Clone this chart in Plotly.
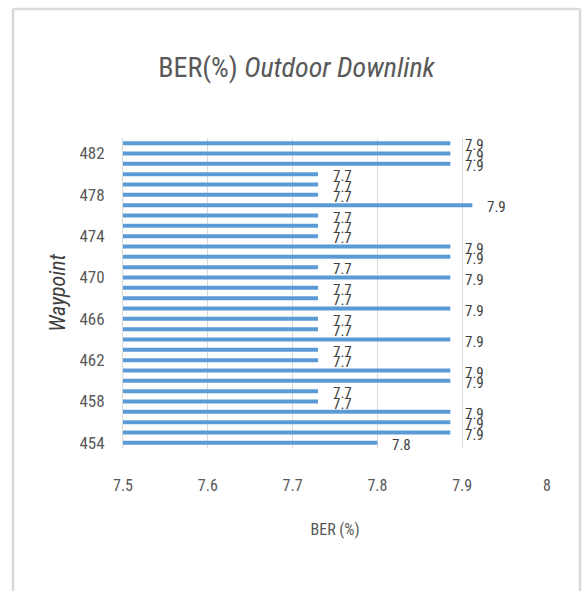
import plotly.graph_objects as go

# ---- data ----
waypoints = [454, 455, 456, 457, 458, 459, 460, 461, 462, 463,
             464, 465, 466, 467, 468, 469, 470, 471, 472, 473,
             474, 475, 476, 477, 478, 479, 480, 481, 482, 483]
ber = [7.80, 7.886, 7.886, 7.886, 7.73, 7.73, 7.886, 7.886, 7.73, 7.73,
       7.886, 7.73, 7.73, 7.886, 7.73, 7.73, 7.886, 7.73, 7.886, 7.886,
       7.73, 7.73, 7.73, 7.912, 7.73, 7.73, 7.73, 7.886, 7.886, 7.886]
y_tickvals = [454, 458, 462, 466, 470, 474, 478, 482]
x_tickvals = [7.5, 7.6, 7.7, 7.8, 7.9, 8.0]
x_ticktext = ["7.5", "7.6", "7.7", "7.8", "7.9", "8"]

FONT = "Liberation Sans Narrow, Roboto Condensed, DejaVu Sans Condensed, Arial Narrow, sans-serif"
W, H = 582, 591
L, R, T, B = 123, 35, 138, 143

fig = go.Figure()
fig.add_trace(go.Bar(
    x=ber, y=waypoints, orientation="h",
    marker=dict(color="#5B9BD5", line=dict(width=0)),
    width=0.38,
    hoverinfo="x+y",
))

for w, v in zip(waypoints, ber):
    fig.add_annotation(
        x=v, y=w, xref="x", yref="y", text=f"{v:.1f}",
        showarrow=False, xanchor="left", yanchor="middle",
        xshift=13, yshift=-2,
        font=dict(family=FONT, size=15, color="#404040"),
    )

# outer chart border (light grey frame)
pw = W - L - R
ph = H - T - B
def px_x(p):
    return (p - L) / pw
def px_y(p):
    return (H - B - p) / ph
fig.add_shape(type="line", xref="paper", yref="paper",
              x0=px_x(13), x1=px_x(13), y0=px_y(9), y1=px_y(595),
              line=dict(color="#D9D9D9", width=2.5))
fig.add_shape(type="line", xref="paper", yref="paper",
              x0=px_x(13), x1=px_x(580), y0=px_y(9), y1=px_y(9),
              line=dict(color="#D9D9D9", width=2.5))
fig.add_shape(type="line", xref="paper", yref="paper",
              x0=px_x(580), x1=px_x(580), y0=px_y(9), y1=px_y(595),
              line=dict(color="#D9D9D9", width=2.5))

fig.update_layout(
    width=W, height=H,
    margin=dict(l=L, r=R, t=T, b=B),
    paper_bgcolor="white", plot_bgcolor="white",
    showlegend=False,
    font=dict(family=FONT, color="#595959"),
    title=dict(
        text="BER(%) <i>Outdoor Downlink</i>",
        x=296.5 / W, xref="container", xanchor="center",
        y=1 - 67 / H, yref="container", yanchor="middle",
        font=dict(family=FONT, size=28, color="#595959"),
    ),
    xaxis=dict(
        range=[7.5, 8.0], tickvals=x_tickvals, ticktext=x_ticktext,
        showgrid=True, gridcolor="#D9D9D9", gridwidth=1,
        zeroline=False, showline=False, ticks="",
        ticklabelstandoff=26,
        tickfont=dict(family=FONT, size=16, color="#595959"),
        title=dict(text="BER (%)", standoff=29,
                   font=dict(family=FONT, size=16, color="#595959")),
        fixedrange=True,
    ),
    yaxis=dict(
        range=[453.5, 483.5], tickvals=y_tickvals,
        showgrid=False, zeroline=False,
        showline=True, linecolor="#D9D9D9", linewidth=1,
        ticks="", ticklabelstandoff=14,
        tickfont=dict(family=FONT, size=17, color="#595959"),
        title=dict(text="<i>Waypoint</i>", standoff=7,
                   font=dict(family=FONT, size=22, color="#404040")),
        fixedrange=True,
    ),
)

fig.write_html("out.html")
